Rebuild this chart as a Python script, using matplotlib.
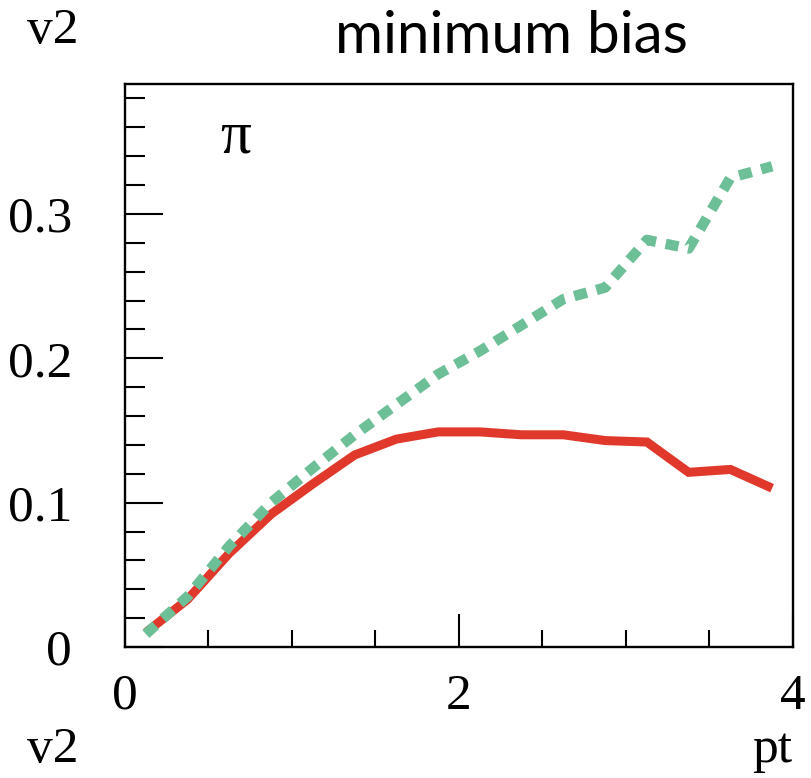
import matplotlib
matplotlib.use("Agg")
import matplotlib.pyplot as plt
from matplotlib.ticker import MultipleLocator

# pt bin centres and v2 values for pions
pt = [0.125, 0.375, 0.625, 0.875, 1.125, 1.375, 1.625, 1.875,
      2.125, 2.375, 2.625, 2.875, 3.125, 3.375, 3.625, 3.875]
v2_red = [0.010, 0.033, 0.065, 0.092, 0.113, 0.133, 0.144, 0.149,
          0.149, 0.147, 0.147, 0.143, 0.142, 0.121, 0.123, 0.110]
v2_green = [0.009, 0.035, 0.070, 0.100, 0.124, 0.147, 0.168, 0.189,
            0.205, 0.223, 0.241, 0.249, 0.282, 0.276, 0.325, 0.333]

W, H = 812, 778
fig = plt.figure(figsize=(W / 100, H / 100), dpi=100)
ax = fig.add_axes([125 / W, 1 - 647 / H, (793 - 125) / W, (647 - 84) / H])

ax.plot(pt, v2_red, color="#e0392b", lw=6.5, solid_capstyle="butt",
        solid_joinstyle="miter")
ax.plot(pt, v2_green, color="#6cbf97", lw=7.5, linestyle=(0, (1.25, 0.95)),
        dash_capstyle="butt")

ax.set_xlim(0, 4)
ax.set_ylim(0, 0.39)

serif = "Liberation Serif"
ax.xaxis.set_major_locator(MultipleLocator(2))
ax.xaxis.set_minor_locator(MultipleLocator(0.5))
ax.yaxis.set_major_locator(MultipleLocator(0.1))
ax.yaxis.set_minor_locator(MultipleLocator(0.02))
ax.set_xticks([0, 2, 4], ["0", "2", "4"])
ax.set_yticks([0, 0.1, 0.2, 0.3], ["0", "0.1", "0.2", "0.3"])

ax.tick_params(axis="x", which="major", direction="in", length=24, width=1.5,
               pad=19, labelsize=37, top=False)
ax.tick_params(axis="x", which="minor", direction="in", length=12, width=1.5,
               top=False)
ax.tick_params(axis="y", which="major", direction="in", length=27, width=1.5,
               pad=38, labelsize=37, right=False)
ax.tick_params(axis="y", which="minor", direction="in", length=14.5, width=1.5,
               right=False)
for lbl in ax.get_xticklabels() + ax.get_yticklabels():
    lbl.set_fontfamily(serif)
for sp in ax.spines.values():
    sp.set_linewidth(1.7)

ax.text(0.66, 0.353, "π", family=serif, fontsize=44, ha="center", va="center")

fig.text(511 / W, 1 - 53 / H, "minimum bias", family="Lato", fontsize=42,
         ha="center", va="baseline")
fig.text(27 / W, 1 - 43 / H, "v2", family=serif, fontsize=37, ha="left",
         va="baseline")
fig.text(27 / W, 1 - 762 / H, "v2", family=serif, fontsize=37, ha="left",
         va="baseline")
fig.text(792 / W, 1 - 762 / H, "pt", family=serif, fontsize=37, ha="right",
         va="baseline")

fig.savefig("out.png", dpi=100)
